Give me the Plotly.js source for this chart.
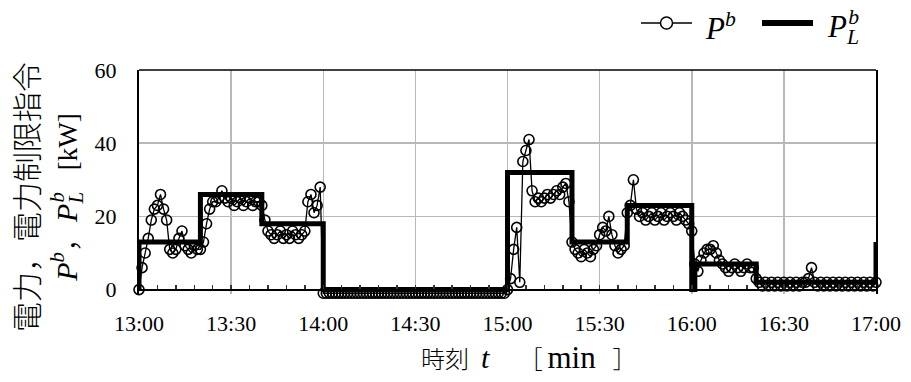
<!DOCTYPE html>
<html>
<head>
<meta charset="utf-8">
<script src="https://cdn.plot.ly/plotly-3.0.1.min.js"></script>
<style>
  html, body { margin: 0; padding: 0; background: #fff; }
  #chart { width: 911px; height: 382px; }
</style>
</head>
<body>
<div id="chart"></div>
<script>
// Measured power P^b [kW], one sample per minute from 13:00 to 17:00
const measuredPower = [
  0, 6, 10, 14, 19, 22, 23, 26, 22, 19,
  11, 10, 11, 14, 16, 12, 11, 10, 12, 11,
  11, 13, 18, 22, 24, 24, 25, 27, 25, 24,
  25, 23, 24, 25, 23, 24, 25, 23, 24, 24,
  23, 19, 16, 15, 14, 15, 16, 14, 15, 14,
  16, 15, 14, 15, 16, 24, 26, 21, 23, 28,
  -1, -1, -1, -1, -1, -1, -1, -1, -1, -1,
  -1, -1, -1, -1, -1, -1, -1, -1, -1, -1,
  -1, -1, -1, -1, -1, -1, -1, -1, -1, -1,
  -1, -1, -1, -1, -1, -1, -1, -1, -1, -1,
  -1, -1, -1, -1, -1, -1, -1, -1, -1, -1,
  -1, -1, -1, -1, -1, -1, -1, -1, -1, -1,
  0, 3, 11, 17, 2, 35, 38, 41, 27, 24,
  25, 24, 25, 26, 25, 26, 27, 26, 28, 29,
  24, 13, 11, 10, 9, 11, 10, 9, 11, 12,
  15, 17, 16, 20, 15, 12, 10, 11, 12, 21,
  23, 30, 22, 20, 21, 19, 20, 21, 19, 20,
  21, 19, 20, 21, 20, 19, 21, 20, 19, 18,
  16, 7, 5, 8, 10, 11, 11, 12, 10, 8,
  7, 6, 5, 6, 7, 6, 5, 6, 7, 6,
  6, 3, 2, 1, 2, 1, 2, 1, 2, 1,
  2, 1, 2, 1, 2, 1, 2, 2, 3, 6,
  2, 1, 2, 1, 2, 1, 2, 1, 2, 1,
  2, 1, 2, 1, 2, 1, 2, 1, 2, 1,
  2
];
// Sample times in minutes after 13:00
const sampleMinutes = measuredPower.map((_, i) => i);

// Power limit command P_L^b [kW] as a step signal (minutes after 13:00)
const limitMinutes = [0, 0, 20, 40, 60, 120, 141, 159, 180, 181, 201, 240, 240];
const limitPower   = [0, 13, 26, 18, 0, 32, 13, 23, 0, 7, 2, 2, 13];

// Axis ticks
const timeTickValues = [0, 30, 60, 90, 120, 150, 180, 210, 240];
const timeTickLabels = ['13:00', '13:30', '14:00', '14:30', '15:00', '15:30', '16:00', '16:30', '17:00'];
const powerTickValues = [0, 20, 40, 60];

// Text
const labelMeasured = '<i>P</i><sup><i>b</i></sup>';
const labelLimit = '<i>P</i><sub><i style="letter-spacing:-0.5em">L</i></sub><sup><i>b</i></sup>';
const yTitleLine1 = '電力，電力制限指令';
const yTitleLine2 =
  '<span style="font-family:Liberation Serif">' + labelMeasured + '</span>，' +
  '<span style="font-family:Liberation Serif">' + labelLimit + '</span>\u2002 ' +
  '<span style="font-family:Liberation Serif;font-size:27px">[kW]</span>';
const xTitle =
  '時刻\u2002<span style="font-family:Liberation Serif;font-size:30px"><i>t</i></span>\u3000 ' +
  '［\u2009<span style="font-family:Liberation Serif;font-size:31px">min</span>\u2002\u2009］';

const SERIF = 'Liberation Serif';
const CJK = 'Noto Sans CJK JP';

// Page geometry (pixels) and helpers to place paper-referenced items
const W = 911, H = 382;
const M = { l: 139, r: 35, t: 70, b: 88 };
const plotW = W - M.l - M.r, plotH = H - M.t - M.b;
const px2x = px => (px - M.l) / plotW;
const px2y = py => (H - M.b - py) / plotH;

// y range reaches a little below zero so the small negative readings stay visible
const yRange = [-1.2, 60];
const zeroPos = (0 - yRange[0]) / (yRange[1] - yRange[0]);

const traces = [
  {
    x: sampleMinutes,
    y: measuredPower,
    name: 'Pb',
    type: 'scatter',
    mode: 'lines+markers',
    line: { color: '#000', width: 1.3 },
    marker: { symbol: 'circle-open', size: 10, color: '#000', line: { width: 1.6, color: '#000' } },
    cliponaxis: false
  },
  {
    x: limitMinutes,
    y: limitPower,
    name: 'PLb',
    type: 'scatter',
    mode: 'lines',
    line: { color: '#000', width: 5, shape: 'hv' },
    cliponaxis: false
  }
];

// Hand-placed legend
const legendY = 23;
const shapes = [
  // top border of the plot frame
  { type: 'line', xref: 'paper', yref: 'paper', x0: 0, x1: 1, y0: 1, y1: 1,
    line: { color: '#000', width: 1.5 } },
  // legend sample: thin line with open circle
  { type: 'line', xref: 'paper', yref: 'paper', x0: px2x(641), x1: px2x(692),
    y0: px2y(legendY), y1: px2y(legendY), line: { color: '#000', width: 1.5 } },
  { type: 'circle', xref: 'paper', yref: 'paper', x0: px2x(660.5), x1: px2x(672.5),
    y0: px2y(legendY + 6), y1: px2y(legendY - 6), fillcolor: '#fff', line: { color: '#000', width: 1.5 } },
  // legend sample: thick line
  { type: 'line', xref: 'paper', yref: 'paper', x0: px2x(762), x1: px2x(813),
    y0: px2y(legendY), y1: px2y(legendY), line: { color: '#000', width: 6 } }
];

const annotations = [
  { text: labelMeasured, xref: 'paper', yref: 'paper', x: px2x(703), y: px2y(27),
    xanchor: 'left', yanchor: 'middle', showarrow: false,
    font: { family: SERIF, size: 31, color: '#000' } },
  { text: labelLimit, xref: 'paper', yref: 'paper', x: px2x(825), y: px2y(27),
    xanchor: 'left', yanchor: 'middle', showarrow: false,
    font: { family: SERIF, size: 31, color: '#000' } },
  { text: yTitleLine1 + '<br>' + yTitleLine2, xref: 'paper', yref: 'paper',
    x: px2x(45), y: px2y(197), xanchor: 'center', yanchor: 'middle', textangle: -90,
    showarrow: false, font: { family: CJK, size: 30, color: '#000', weight: 300 } },
  { text: xTitle, xref: 'paper', yref: 'paper', x: px2x(529), y: px2y(357),
    xanchor: 'center', yanchor: 'middle', showarrow: false,
    font: { family: CJK, size: 24, color: '#000', weight: 300 } }
];

const layout = {
  width: W,
  height: H,
  margin: M,
  paper_bgcolor: '#fff',
  plot_bgcolor: '#fff',
  showlegend: false,
  xaxis: {
    range: [0, 240],
    anchor: 'free',
    position: zeroPos,
    tickmode: 'array',
    tickvals: timeTickValues,
    ticktext: timeTickLabels,
    ticks: 'inside',
    ticklen: 4,
    tickwidth: 1.5,
    tickcolor: '#333',
    ticklabelstandoff: 14,
    tickfont: { family: SERIF, size: 22, color: '#000' },
    showgrid: true,
    gridcolor: '#b8b8b8',
    gridwidth: 1.5,
    zeroline: false,
    showline: true,
    linecolor: '#000',
    linewidth: 2,
    mirror: false,
    minor: {
      tickmode: 'linear',
      tick0: 0,
      dtick: 6,
      ticks: 'inside',
      ticklen: 4,
      tickwidth: 1.5,
      tickcolor: '#333',
      showgrid: false
    }
  },
  yaxis: {
    range: yRange,
    tickmode: 'array',
    tickvals: powerTickValues,
    ticks: '',
    ticklabelstandoff: 16,
    tickfont: { family: SERIF, size: 22, color: '#000' },
    showgrid: true,
    gridcolor: '#b8b8b8',
    gridwidth: 1.5,
    zeroline: false,
    showline: true,
    linecolor: '#000',
    linewidth: 2,
    mirror: true
  },
  shapes: shapes,
  annotations: annotations
};

Plotly.newPlot('chart', traces, layout, { staticPlot: true, displayModeBar: false });
</script>
</body>
</html>
